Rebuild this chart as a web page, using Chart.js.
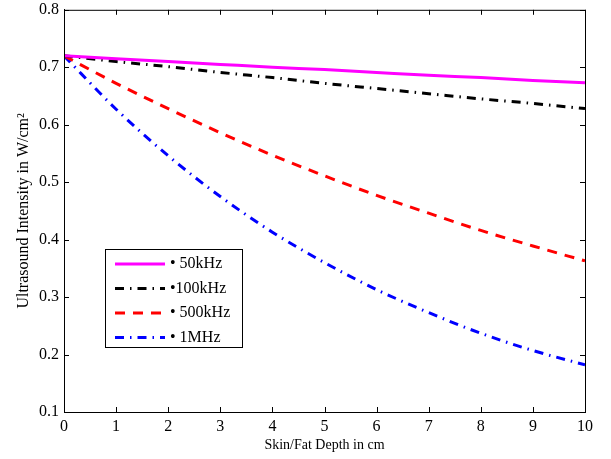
<!DOCTYPE html>
<html>
<head>
<meta charset="utf-8">
<script src="https://cdn.jsdelivr.net/npm/chart.js@4.4.0/dist/chart.umd.min.js"></script>
<style>
  html, body { margin: 0; padding: 0; background: #fff; }
  #wrap { width: 611px; height: 459px; }
</style>
</head>
<body>
<div id="wrap"><canvas id="c"></canvas></div>
<script>
// depth in cm
const depth = [0, 1, 2, 3, 4, 5, 6, 7, 8, 9, 10];
// intensity W/cm^2
const i50k  = [0.720, 0.715, 0.710, 0.705, 0.700, 0.696, 0.691, 0.686, 0.682, 0.677, 0.673];
const i100k = [0.720, 0.710, 0.701, 0.691, 0.682, 0.672, 0.663, 0.654, 0.645, 0.637, 0.628];
const i500k = [0.720, 0.672, 0.628, 0.586, 0.547, 0.511, 0.477, 0.446, 0.416, 0.389, 0.363];
const i1M   = [0.720, 0.627, 0.546, 0.475, 0.413, 0.360, 0.313, 0.273, 0.237, 0.207, 0.182];
const seriesNames = ['\u2022 50kHz', '\u2022100kHz', '\u2022 500kHz', '\u2022 1MHz'];

const FONT = 'Liberation Serif, Times New Roman, serif';

const pts = arr => depth.map((x, i) => ({ x: x, y: arr[i] }));

// inward ticks on all four sides + top/right frame
const frameTicks = {
    id: 'frameTicks',
    afterDraw(chart) {
        const { ctx, chartArea: a } = chart;
        const xs = chart.scales.x, ys = chart.scales.y;
        ctx.save();
        ctx.strokeStyle = '#000';
        ctx.lineWidth = 1;
        ctx.strokeRect(a.left + 0.5, a.top + 0.5, a.right - a.left, a.bottom - a.top);
        const len = 5;
        ctx.beginPath();
        xs.ticks.forEach(t => {
            const px = Math.round(xs.getPixelForValue(t.value)) + 0.5;
            ctx.moveTo(px, a.bottom); ctx.lineTo(px, a.bottom - len);
            ctx.moveTo(px, a.top); ctx.lineTo(px, a.top + len);
        });
        ys.ticks.forEach(t => {
            const py = Math.round(ys.getPixelForValue(t.value)) + 0.5;
            ctx.moveTo(a.left, py); ctx.lineTo(a.left + len, py);
            ctx.moveTo(a.right, py); ctx.lineTo(a.right - len, py);
        });
        ctx.stroke();
        ctx.restore();
    }
};

// boxed legend inside the axes, lower left
const boxLegend = {
    id: 'boxLegend',
    afterDraw(chart) {
        const ctx = chart.ctx;
        const bx = 105, by = 249, bw = 137, bh = 98;
        ctx.save();
        ctx.fillStyle = '#fff';
        ctx.fillRect(bx, by, bw, bh);
        ctx.strokeStyle = '#000';
        ctx.lineWidth = 1;
        ctx.strokeRect(bx + 0.5, by + 0.5, bw, bh);
        ctx.font = '16px ' + FONT;
        ctx.textBaseline = 'middle';
        chart.data.datasets.forEach((ds, i) => {
            const y = by + 15 + i * 24.5;
            ctx.beginPath();
            ctx.strokeStyle = ds.borderColor;
            ctx.lineWidth = ds.borderWidth;
            ctx.setLineDash(ds.borderDash || []);
            ctx.moveTo(115, y);
            ctx.lineTo(165, y);
            ctx.stroke();
            ctx.setLineDash([]);
            ctx.fillStyle = '#000';
            ctx.fillText(ds.label, 170, y);
        });
        ctx.restore();
    }
};

new Chart(document.getElementById('c'), {
    type: 'line',
    data: {
        datasets: [
            { label: seriesNames[0], data: pts(i50k), borderColor: '#ff00ff', borderWidth: 3, borderDash: [] },
            { label: seriesNames[1], data: pts(i100k), borderColor: '#000000', borderWidth: 3, borderDash: [9, 6, 1.5, 6] },
            { label: seriesNames[2], data: pts(i500k), borderColor: '#ff0000', borderWidth: 3, borderDash: [10, 8] },
            { label: seriesNames[3], data: pts(i1M), borderColor: '#0000ff', borderWidth: 3, borderDash: [9, 6, 1.5, 6] }
        ]
    },
    options: {
        responsive: true,
        maintainAspectRatio: false,
        animation: false,
        layout: { padding: { top: 7, right: 26, left: 0, bottom: 0 } },
        elements: { point: { radius: 0 }, line: { tension: 0.4, cubicInterpolationMode: 'monotone' } },
        plugins: { legend: { display: false }, tooltip: { enabled: false } },
        scales: {
            x: {
                type: 'linear', min: 0, max: 10,
                ticks: { stepSize: 1, color: '#000', font: { family: FONT, size: 16 }, padding: 5, maxRotation: 0 },
                grid: { display: false, drawTicks: false },
                border: { display: true, color: '#000' },
                title: { display: true, text: 'Skin/Fat Depth in cm', color: '#000', font: { family: FONT, size: 14 }, padding: { top: 0, bottom: 5 } },
                afterFit(s) { s.height = 47; }
            },
            y: {
                min: 0.1, max: 0.8,
                ticks: { stepSize: 0.1, color: '#000', font: { family: FONT, size: 16, lineHeight: 0.6 }, padding: 5,
                         callback: v => v.toFixed(1) },
                grid: { display: false, drawTicks: false },
                border: { display: true, color: '#000' },
                title: { display: true, text: 'Ultrasound Intensity in W/cm\u00b2', color: '#000', font: { family: FONT, size: 16 }, padding: { top: 14, bottom: 0 } },
                afterFit(s) { s.width = 64; }
            }
        }
    },
    plugins: [frameTicks, boxLegend]
});
</script>
</body>
</html>
